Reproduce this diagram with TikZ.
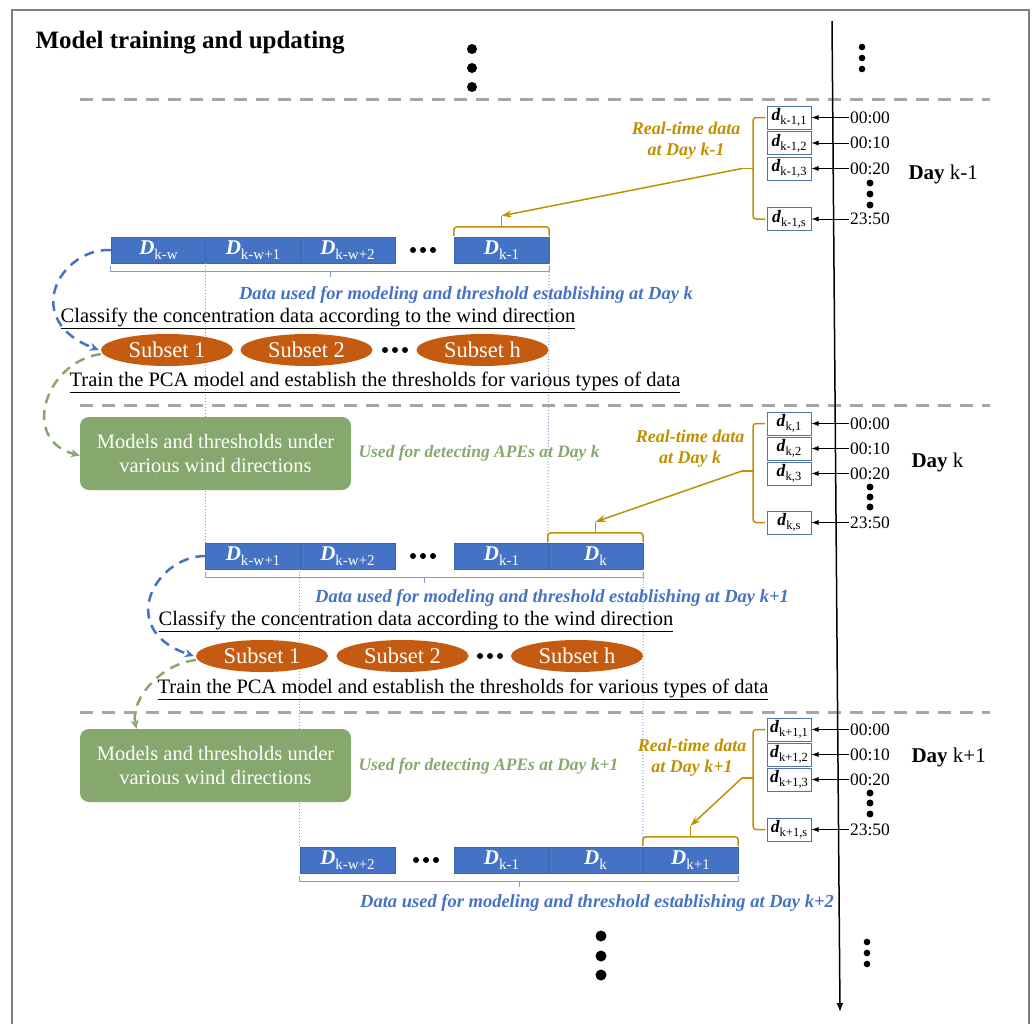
\documentclass[tikz,border=0pt]{standalone}
\usepackage{fontspec}
\setmainfont{Liberation Serif}
\usetikzlibrary{arrows.meta,shapes.geometric,calc}

\definecolor{blk}{HTML}{4472C4}
\definecolor{blkedge}{HTML}{3A64B0}
\definecolor{suborange}{HTML}{C55A11}
\definecolor{modgreen}{HTML}{86A86E}
\definecolor{gold}{HTML}{BF9000}
\definecolor{sepgray}{HTML}{A6A6A6}
\definecolor{lightblue}{HTML}{7F9FDA}
\definecolor{dboxblue}{HTML}{4F74A8}
\definecolor{framegray}{HTML}{808080}

\newcommand{\Dlab}[1]{\textbf{\textit{D}}\raisebox{-0.22em}{\fontsize{15}{15}\selectfont #1}}
\newcommand{\dlab}[1]{\textbf{\textit{d}}\raisebox{-0.22em}{\fontsize{12.5}{12.5}\selectfont #1}}

\begin{document}
\begin{tikzpicture}[x=1pt,y=-1pt,
		dblock/.style={draw=blkedge, fill=blk, text=white, minimum width=95pt, minimum height=26pt, inner sep=0pt, font=\fontsize{21}{22}\selectfont},
		subset/.style={ellipse, fill=suborange, text=white, minimum width=132pt, minimum height=32pt, inner sep=0pt, font=\fontsize{22.5}{24}\selectfont},
		modelbox/.style={rounded corners=9pt, fill=modgreen, text=white, minimum width=271pt, minimum height=73pt, align=center, font=\fontsize{20.5}{23.5}\selectfont},
		dbox/.style={draw=dboxblue, line width=1pt, fill=white, minimum width=44pt, minimum height=23pt, inner sep=0pt, font=\fontsize{17.5}{18}\selectfont},
		timelab/.style={font=\fontsize{17.5}{19}\selectfont, inner sep=1pt},
		daylab/.style={anchor=west, font=\fontsize{21}{24}\selectfont},
		stepline/.style={font=\fontsize{20.5}{22}\selectfont},
		usedlab/.style={text=blk, font=\fontsize{18.5}{20}\selectfont\bfseries\itshape},
		realtime/.style={text=gold, align=center, font=\fontsize{18}{21}\selectfont\bfseries\itshape},
		detectlab/.style={text=modgreen, font=\fontsize{17.5}{20}\selectfont\bfseries\itshape},
		sepline/.style={sepgray, line width=3pt, dash pattern=on 13pt off 9pt},
		window/.style={lightblue, dotted, line width=1pt},
		goldbrace/.style={gold, line width=1.5pt, rounded corners=3pt},
		underbrace/.style={lightblue, line width=1pt},
		goldarrow/.style={gold, line width=1.5pt, -{Stealth[length=10pt,width=7pt]}},
		timearrow/.style={line width=0.8pt, -{Latex[length=7pt,width=5pt]}},
		bluecurve/.style={blk, line width=2.5pt, dash pattern=on 10pt off 7pt, -{Stealth[length=9pt,width=8pt]}},
		greencurve/.style={modgreen, line width=2.5pt, dash pattern=on 10pt off 7pt, -{Stealth[length=9pt,width=8pt]}}
	]
	
	\useasboundingbox (0,0) rectangle (1035,1023);
	
	\draw[framegray, line width = 2pt] (12,1040) -- (12,10) -- (1029,10) -- (1029,1040);
	
	\node[anchor=west, font=\fontsize{25}{28}\selectfont\bfseries] (title) at (32,43) {Model training and updating};
	
	\draw[sepline] (80,99) -- (990,99);
	\draw[sepline] (80,405) -- (990,405);
	\draw[sepline] (80,712) -- (990,712);
	
	\coordinate (tltop) at (832,21);
	\coordinate (tlbot) at (840,1012);
	\draw[line width = 1.5pt, -{Latex[length=9pt,width=7pt]}] (tltop) -- (tlbot);
	
	\fill (472,49) circle (5pt);
	\fill (472,68) circle (5pt);
	\fill (472,87) circle (5pt);
	\fill (862,47) circle (3.3pt);
	\fill (862,58) circle (3.3pt);
	\fill (862,69) circle (3.3pt);
	\fill (601,936) circle (5.5pt);
	\fill (601,956) circle (5.5pt);
	\fill (601,975) circle (5.5pt);
	\fill (867,942) circle (3.3pt);
	\fill (867,953) circle (3.3pt);
	\fill (867,964) circle (3.3pt);
	
	\node[dblock] (ra1) at (158.5,250) {\Dlab{k-w}};
	\node[dblock] (ra2) at (253,250) {\Dlab{k-w+1}};
	\node[dblock] (ra3) at (347.5,250) {\Dlab{k-w+2}};
	\node[dblock] (ra4) at (501.5,250) {\Dlab{k-1}};
	
	\node[dblock] (rb1) at (253,556) {\Dlab{k-w+1}};
	\node[dblock] (rb2) at (347.5,556) {\Dlab{k-w+2}};
	\node[dblock] (rb4) at (501.5,556) {\Dlab{k-1}};
	\node[dblock] (rb5) at (595.5,556) {\Dlab{k}};
	
	\node[dblock] (rc1) at (347.5,860) {\Dlab{k-w+2}};
	\node[dblock] (rc3) at (501.5,860) {\Dlab{k-1}};
	\node[dblock] (rc4) at (595.5,860) {\Dlab{k}};
	\node[dblock] (rc5) at (690.5,860) {\Dlab{k+1}};
	
	\draw[window] (ra2.south west) -- (rb1.north west);
	\draw[window] (ra4.south east) -- (rb5.north west);
	\draw[window] (rb2.south west) -- (rc1.north west);
	\draw[window] (rb5.south east) -- (rc5.north west);
	
	\foreach \y in {250,556} {
		\fill (413,\y) circle (3pt);
		\fill (423,\y) circle (3pt);
		\fill (433,\y) circle (3pt);
	}
	\fill (416,860) circle (3pt);
	\fill (426,860) circle (3pt);
	\fill (436,860) circle (3pt);
	
	\draw[underbrace] ([yshift=-3pt]ra1.south west) -- ([yshift=-8pt]ra1.south west) -- ([yshift=-8pt]ra4.south east) -- ([yshift=-3pt]ra4.south east);
	\draw[underbrace] ([yshift=-8pt]$(ra1.south west)!0.5!(ra4.south east)$) -- ([yshift=-14pt]$(ra1.south west)!0.5!(ra4.south east)$);
	\draw[underbrace] ([yshift=-3pt]rb1.south west) -- ([yshift=-8pt]rb1.south west) -- ([yshift=-8pt]rb5.south east) -- ([yshift=-3pt]rb5.south east);
	\draw[underbrace] ([yshift=-8pt]$(rb1.south west)!0.5!(rb5.south east)$) -- ([yshift=-14pt]$(rb1.south west)!0.5!(rb5.south east)$);
	\draw[underbrace] ([yshift=-3pt]rc1.south west) -- ([yshift=-8pt]rc1.south west) -- ([yshift=-8pt]rc5.south east) -- ([yshift=-3pt]rc5.south east);
	\draw[underbrace] ([yshift=-8pt]$(rc1.south west)!0.5!(rc5.south east)$) -- ([yshift=-14pt]$(rc1.south west)!0.5!(rc5.south east)$);
	
	\node[usedlab] (ua) at (466,295) {Data used for modeling and threshold establishing at Day k};
	\node[usedlab] (ub) at (552,598) {Data used for modeling and threshold establishing at Day k+1};
	\node[usedlab] (uc) at (597,903) {Data used for modeling and threshold establishing at Day k+2};
	
	\node[stepline] (ca) at (318,318) {\underline{Classify the concentration data according to the wind direction}};
	\node[stepline] (cb) at (416,621) {\underline{Classify the concentration data according to the wind direction}};
	\node[stepline] (pa) at (375,382) {\underline{Train the PCA model and establish the thresholds for various types of data}};
	\node[stepline] (pb) at (463,689) {\underline{Train the PCA model and establish the thresholds for various types of data}};
	
	\node[subset] (sa1) at (167,350) {Subset 1};
	\node[subset] (sa2) at (306.5,350) {Subset 2};
	\node[subset] (sah) at (482.5,350) {Subset h};
	\fill (385,350) circle (3pt);
	\fill (395,350) circle (3pt);
	\fill (405,350) circle (3pt);
	
	\node[subset] (sb1) at (262,656) {Subset 1};
	\node[subset] (sb2) at (402.5,656) {Subset 2};
	\node[subset] (sbh) at (577,656) {Subset h};
	\fill (480,656) circle (3pt);
	\fill (490,656) circle (3pt);
	\fill (500,656) circle (3pt);
	
	\node[modelbox] (ma) at (215.5,453.5) {Models and thresholds under\\various wind directions};
	\node[modelbox] (mb) at (215.5,765.5) {Models and thresholds under\\various wind directions};
	\node[detectlab, anchor=west] (ga) at (355,453) {Used for detecting APEs at Day k};
	\node[detectlab, anchor=west] (gb) at (355,766) {Used for detecting APEs at Day k+1};
	
	\draw[bluecurve] (ra1.west) .. controls (60,248) and (20,320) .. ([xshift=-2pt]sa1.west);
	\draw[greencurve] ([yshift=-4pt]sa1.west) .. controls (45,362) and (20,440) .. ([yshift=-2pt]ma.west);
	\draw[bluecurve] (rb1.west) .. controls (155,556) and (115,630) .. ([xshift=-2pt]sb1.west);
	\draw[greencurve] ([yshift=-4pt]sb1.west) .. controls (160,664) and (130,700) .. ([xshift=-79pt]mb.north);
	
	\node[dbox] (da1) at (789,117.5) {\dlab{k-1,1}};
	\node[dbox] (da2) at (789,143) {\dlab{k-1,2}};
	\node[dbox] (da3) at (789,168.5) {\dlab{k-1,3}};
	\node[dbox] (das) at (789,219) {\dlab{k-1,s}};
	\node[timelab] (ta1) at (870,117.5) {00:00};
	\node[timelab] (ta2) at (870,143) {00:10};
	\node[timelab] (ta3) at (870,168.5) {00:20};
	\node[timelab] (tas) at (870,219) {23:50};
	\draw[timearrow] (ta1) -- (da1);
	\draw[timearrow] (ta2) -- (da2);
	\draw[timearrow] (ta3) -- (da3);
	\draw[timearrow] (tas) -- (das);
	\fill (870,183) circle (3.5pt);
	\fill (870,194) circle (3.5pt);
	\fill (870,205) circle (3.5pt);
	\node[daylab] (daya) at (905,174) {\textbf{Day} k-1};
	
	\node[dbox] (db1) at (789,423.5) {\dlab{k,1}};
	\node[dbox] (db2) at (789,448.5) {\dlab{k,2}};
	\node[dbox] (db3) at (789,473.5) {\dlab{k,3}};
	\node[dbox] (dbs) at (789,522.5) {\dlab{k,s}};
	\node[timelab] (tb1) at (870,423.5) {00:00};
	\node[timelab] (tb2) at (870,448.5) {00:10};
	\node[timelab] (tb3) at (870,473.5) {00:20};
	\node[timelab] (tbs) at (870,522.5) {23:50};
	\draw[timearrow] (tb1) -- (db1);
	\draw[timearrow] (tb2) -- (db2);
	\draw[timearrow] (tb3) -- (db3);
	\draw[timearrow] (tbs) -- (dbs);
	\fill (870,487) circle (3.5pt);
	\fill (870,497) circle (3.5pt);
	\fill (870,507) circle (3.5pt);
	\node[daylab] (dayb) at (908,462) {\textbf{Day} k};
	
	\node[dbox] (dc1) at (789,729.5) {\dlab{k+1,1}};
	\node[dbox] (dc2) at (789,754.5) {\dlab{k+1,2}};
	\node[dbox] (dc3) at (789,779.5) {\dlab{k+1,3}};
	\node[dbox] (dcs) at (789,829.5) {\dlab{k+1,s}};
	\node[timelab] (tc1) at (870,729.5) {00:00};
	\node[timelab] (tc2) at (870,754.5) {00:10};
	\node[timelab] (tc3) at (870,779.5) {00:20};
	\node[timelab] (tcs) at (870,829.5) {23:50};
	\draw[timearrow] (tc1) -- (dc1);
	\draw[timearrow] (tc2) -- (dc2);
	\draw[timearrow] (tc3) -- (dc3);
	\draw[timearrow] (tcs) -- (dcs);
	\fill (870,793) circle (3.5pt);
	\fill (870,803) circle (3.5pt);
	\fill (870,814) circle (3.5pt);
	\node[daylab] (dayc) at (908,757) {\textbf{Day} k+1};
	
	\draw[goldbrace] (765,117.5) -- (753,117.5) -- (753,219) -- (765,219);
	\coordinate (ba) at (742,168.5);
	\draw[goldbrace] (753,168.5) -- (ba);
	\draw[goldbrace] ([yshift=1pt]ra4.north west) -- ([yshift=10pt]ra4.north west) -- ([yshift=10pt]ra4.north east) -- ([yshift=1pt]ra4.north east);
	\coordinate (qa) at ([yshift=21pt]ra4.north);
	\draw[goldbrace] ([yshift=10pt]ra4.north) -- (qa);
	\draw[goldarrow] (ba) -- (qa);
	\node[realtime] (rta) at (686,141) {Real-time data\\at Day k-1};
	
	\draw[goldbrace] (765,423.5) -- (753,423.5) -- (753,522.5) -- (765,522.5);
	\coordinate (bb) at (742,471);
	\draw[goldbrace] (753,471) -- (bb);
	\draw[goldbrace] ([yshift=1pt]rb5.north west) -- ([yshift=10pt]rb5.north west) -- ([yshift=10pt]rb5.north east) -- ([yshift=1pt]rb5.north east);
	\coordinate (qb) at ([yshift=21pt]rb5.north);
	\draw[goldbrace] ([yshift=10pt]rb5.north) -- (qb);
	\draw[goldarrow] (bb) -- (qb);
	\node[realtime] (rtb) at (690,449) {Real-time data\\at Day k};
	
	\draw[goldbrace] (765,729.5) -- (753,729.5) -- (753,829.5) -- (765,829.5);
	\coordinate (bc) at (742,778);
	\draw[goldbrace] (753,778) -- (bc);
	\draw[goldbrace] ([yshift=1pt]rc5.north west) -- ([yshift=10pt]rc5.north west) -- ([yshift=10pt]rc5.north east) -- ([yshift=1pt]rc5.north east);
	\coordinate (qc) at ([yshift=21pt]rc5.north);
	\draw[goldbrace] ([yshift=10pt]rc5.north) -- (qc);
	\draw[goldarrow] (bc) -- (qc);
	\node[realtime] (rtc) at (692,758) {Real-time data\\at Day k+1};
	
\end{tikzpicture}
\end{document}
